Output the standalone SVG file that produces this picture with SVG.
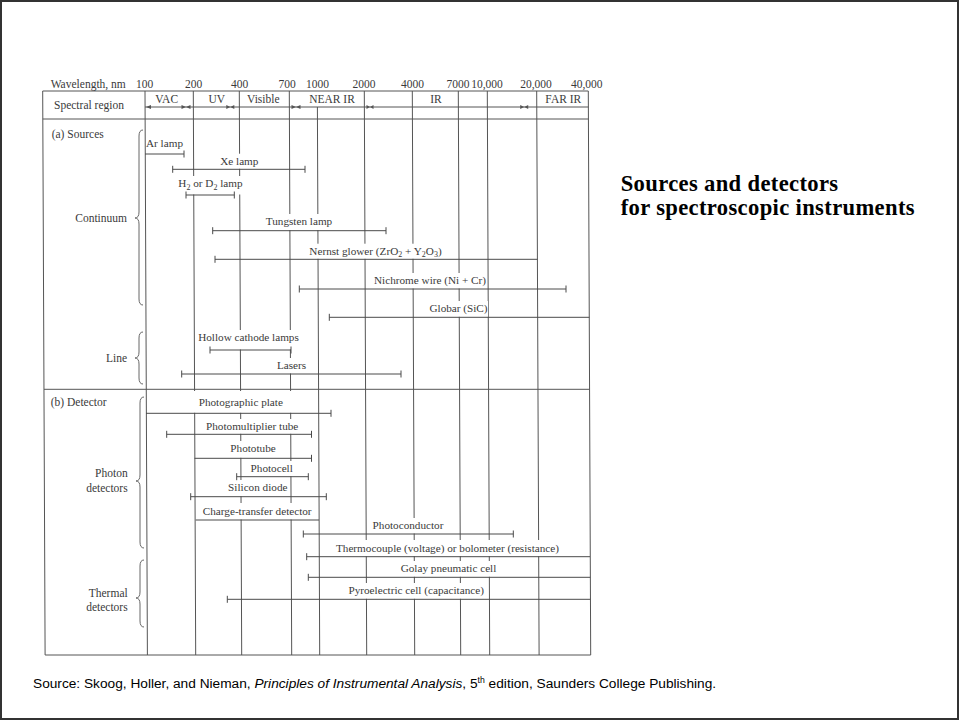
<svg xmlns="http://www.w3.org/2000/svg" width="960" height="721" viewBox="0 0 960 721">
<defs>
<style>
.t{font-family:"Liberation Serif","Times New Roman",serif;font-size:11.2px;fill:#3a3a3a}
.h{font-family:"Liberation Serif","Times New Roman",serif;font-size:11.5px;fill:#3a3a3a}
.mid{text-anchor:middle}
.end{text-anchor:end}
.g{stroke:#555;stroke-width:1;fill:none}
.bar{stroke:#4a4a4a;stroke-width:1;fill:none}
.br{stroke:#666;stroke-width:1;fill:none}
.w{fill:#fff;stroke:none}
.ar{fill:#555}
.ttl{font-family:"Liberation Serif","Times New Roman",serif;font-size:22.6px;font-weight:bold;fill:#000;letter-spacing:0.35px}
</style>
<marker id="tk" markerWidth="2" markerHeight="8" refX="1" refY="4" orient="auto" markerUnits="userSpaceOnUse">
<path d="M1 0.5V7.5" stroke="#4a4a4a" stroke-width="1"/>
</marker>
</defs>
<rect x="0" y="0" width="960" height="721" fill="#fff"/>
<rect x="1" y="1" width="957" height="718" fill="none" stroke="#333" stroke-width="2"/>

<g id="grid">
<line class="g" x1="42.7" y1="91" x2="45.1" y2="655"/>
<line class="g" x1="145" y1="91" x2="147.4" y2="655"/>
<line class="g" x1="193.3" y1="91" x2="195.7" y2="655"/>
<line class="g" x1="239.3" y1="91" x2="241.7" y2="655"/>
<line class="g" x1="289.3" y1="91" x2="291.7" y2="655"/>
<line class="g" x1="317.4" y1="107" x2="319.7" y2="655"/>
<line class="g" x1="364.3" y1="91" x2="366.7" y2="655"/>
<line class="g" x1="412.3" y1="91" x2="414.7" y2="655"/>
<line class="g" x1="458.3" y1="91" x2="460.7" y2="655"/>
<line class="g" x1="487.3" y1="91" x2="489.7" y2="655"/>
<line class="g" x1="536.7" y1="91" x2="539.1" y2="655"/>
<line class="g" x1="588.3" y1="91" x2="590.7" y2="655"/>
<line class="g" x1="42.7" y1="91" x2="588.3" y2="91"/>
<line class="g" x1="145" y1="107" x2="588.4" y2="107"/>
<line class="g" x1="42.8" y1="119" x2="588.4" y2="119"/>
<line class="g" x1="44" y1="389.3" x2="589.5" y2="389.3"/>
<line class="g" x1="45.1" y1="655" x2="590.7" y2="655"/>
</g>

<g id="header">
<text class="h" x="50.7" y="88">Wavelength, nm</text>
<text class="h mid" x="144.5" y="88">100</text>
<text class="h mid" x="193.5" y="88">200</text>
<text class="h mid" x="239.5" y="88">400</text>
<text class="h mid" x="287" y="88">700</text>
<text class="h mid" x="317.5" y="88">1000</text>
<text class="h mid" x="364" y="88">2000</text>
<text class="h mid" x="412.5" y="88">4000</text>
<text class="h mid" x="458" y="88">7000</text>
<text class="h mid" x="487" y="88">10,000</text>
<text class="h mid" x="536" y="88">20,000</text>
<text class="h mid" x="586.7" y="88">40,000</text>
<text class="h" x="54" y="108.5">Spectral region</text>
<text class="h mid" x="166.7" y="103.3">VAC</text>
<text class="h mid" x="216.7" y="103.3">UV</text>
<text class="h mid" x="263.3" y="103.3">Visible</text>
<text class="h mid" x="332" y="103.3">NEAR IR</text>
<text class="h mid" x="436" y="103.3">IR</text>
<text class="h mid" x="563.3" y="103.3">FAR IR</text>
<g id="region-arrows">
<path class="ar" d="M146 107l5-2v4z"/>
<path class="ar" d="M186 107l-4.5-2v4zM186 107l4.5-2v4z"/>
<path class="ar" d="M230.3 107l-4-2v4zM230.3 107l4-2v4z"/>
<path class="ar" d="M296 107l-4.5-2v4zM296 107l4.5-2v4z"/>
<path class="ar" d="M370 107l-3.5-2v4zM370 107l3.5-2v4z"/>
<path class="ar" d="M524.2 107l-4-2v4zM524.2 107l4-2v4z"/>
</g>
</g>

<g id="label-gaps">
<rect class="w" x="218" y="153.7" width="42" height="15.1"/>
<rect class="w" x="177" y="176" width="67" height="18.5"/>
<rect class="w" x="265" y="214" width="68" height="16.2"/>
<rect class="w" x="308" y="243.7" width="135" height="15.1"/>
<rect class="w" x="374" y="273" width="112" height="15.5"/>
<rect class="w" x="429" y="301" width="59" height="15.8"/>
<rect class="w" x="198" y="330" width="101" height="19.5"/>
<rect class="w" x="276" y="358" width="31" height="15.5"/>
<rect class="w" x="148" y="391" width="168" height="21.8"/>
<rect class="w" x="205" y="419" width="94" height="14.8"/>
<rect class="w" x="229" y="441" width="48" height="16.8"/>
<rect class="w" x="249" y="461" width="45" height="15.2"/>
<rect class="w" x="226" y="480" width="63" height="16.2"/>
<rect class="w" x="201" y="503" width="112" height="16.5"/>
<rect class="w" x="372" y="518" width="72" height="15.5"/>
<rect class="w" x="335" y="540" width="225" height="16.2"/>
<rect class="w" x="400" y="561" width="97" height="15.8"/>
<rect class="w" x="347" y="583" width="138" height="15.8"/>
</g>

<g id="side-labels">
<text class="h" x="51.7" y="138">(a)  Sources</text>
<text class="h end" x="127" y="221.7">Continuum</text>
<text class="h end" x="127" y="362">Line</text>
<text class="h" x="50.7" y="405.7">(b)  Detector</text>
<text class="h end" x="127.7" y="476.7">Photon</text>
<text class="h end" x="127.7" y="492.3">detectors</text>
<text class="h end" x="127.7" y="596.7">Thermal</text>
<text class="h end" x="127.7" y="610.7">detectors</text>
<path class="br" d="M143 130Q139 130 139 136L139 212Q139 218 135 218Q139 218 139 224L139 299Q139 305 143 305"/>
<path class="br" d="M143 332Q139 332 139 338L139 352Q139 358 135 358Q139 358 139 364L139 378Q139 384 143 384"/>
<path class="br" d="M144 397Q140 397 140 403L140 475Q140 481 136 481Q140 481 140 487L140 542Q140 548 144 548"/>
<path class="br" d="M144 560Q140 560 140 566L140 592Q140 598 136 598Q140 598 140 604L140 621Q140 627 144 627"/>
</g>

<g id="sources">
<g id="ar-lamp"><line class="bar" x1="145.1" y1="154" x2="184" y2="154" marker-end="url(#tk)"/><text class="t" x="146" y="146.7">Ar lamp</text></g>
<g id="xe-lamp"><line class="bar" x1="172.7" y1="169.3" x2="305" y2="169.3" marker-start="url(#tk)" marker-end="url(#tk)"/><text class="t mid" x="239.3" y="164.7">Xe lamp</text></g>
<g id="h2-lamp"><line class="bar" x1="186" y1="195" x2="234.3" y2="195" marker-start="url(#tk)" marker-end="url(#tk)"/><text class="t mid" x="210.5" y="187.3">H<tspan font-size="8" dy="2.5">2</tspan><tspan dy="-2.5"> or D</tspan><tspan font-size="8" dy="2.5">2</tspan><tspan dy="-2.5"> lamp</tspan></text></g>
<g id="tungsten-lamp"><line class="bar" x1="212.7" y1="230.7" x2="386" y2="230.7" marker-start="url(#tk)" marker-end="url(#tk)"/><text class="t mid" x="299" y="225">Tungsten lamp</text></g>
<g id="nernst-glower"><line class="bar" x1="215" y1="259.3" x2="537.4" y2="259.3" marker-start="url(#tk)"/><text class="t mid" x="375.5" y="254.7">Nernst glower (ZrO<tspan font-size="8" dy="2.5">2</tspan><tspan dy="-2.5"> + Y</tspan><tspan font-size="8" dy="2.5">2</tspan><tspan dy="-2.5">O</tspan><tspan font-size="8" dy="2.5">3</tspan><tspan dy="-2.5">)</tspan></text></g>
<g id="nichrome-wire"><line class="bar" x1="299.3" y1="289" x2="566" y2="289" marker-start="url(#tk)" marker-end="url(#tk)"/><text class="t mid" x="430" y="284">Nichrome wire (Ni + Cr)</text></g>
<g id="globar"><line class="bar" x1="329.3" y1="317.3" x2="589.4" y2="317.3" marker-start="url(#tk)"/><text class="t mid" x="458.5" y="312.3">Globar (SiC)</text></g>
<g id="hollow-cathode"><line class="bar" x1="210" y1="350" x2="291" y2="350" marker-start="url(#tk)" marker-end="url(#tk)"/><text class="t mid" x="248.5" y="341.3">Hollow cathode lamps</text></g>
<g id="lasers"><line class="bar" x1="181.7" y1="374" x2="401" y2="374" marker-start="url(#tk)" marker-end="url(#tk)"/><text class="t mid" x="291.5" y="369">Lasers</text></g>
</g>

<g id="detectors">
<g id="photographic-plate"><line class="bar" x1="146" y1="413.3" x2="331" y2="413.3" marker-end="url(#tk)"/><text class="t mid" x="240.8" y="406">Photographic plate</text></g>
<g id="photomultiplier"><line class="bar" x1="166.7" y1="434.3" x2="311.5" y2="434.3" marker-start="url(#tk)" marker-end="url(#tk)"/><text class="t mid" x="252.2" y="430">Photomultiplier tube</text></g>
<g id="phototube"><line class="bar" x1="194.5" y1="458.3" x2="311.5" y2="458.3" marker-end="url(#tk)"/><text class="t mid" x="253" y="452.3">Phototube</text></g>
<g id="photocell"><line class="bar" x1="236.7" y1="476.7" x2="308.3" y2="476.7" marker-start="url(#tk)" marker-end="url(#tk)"/><text class="t mid" x="271.7" y="471.7">Photocell</text></g>
<g id="silicon-diode"><line class="bar" x1="190.7" y1="496.7" x2="326.3" y2="496.7" marker-start="url(#tk)" marker-end="url(#tk)"/><text class="t mid" x="257.8" y="491.3">Silicon diode</text></g>
<g id="charge-transfer"><line class="bar" x1="195.7" y1="520" x2="319" y2="520"/><text class="t mid" x="257.2" y="515">Charge-transfer detector</text></g>
<g id="photoconductor"><line class="bar" x1="303.3" y1="534" x2="513.3" y2="534" marker-start="url(#tk)" marker-end="url(#tk)"/><text class="t mid" x="408" y="529">Photoconductor</text></g>
<g id="thermocouple"><line class="bar" x1="306.7" y1="556.7" x2="590" y2="556.7" marker-start="url(#tk)"/><text class="t mid" x="447.5" y="551.7">Thermocouple (voltage) or bolometer (resistance)</text></g>
<g id="golay"><line class="bar" x1="308.3" y1="577.3" x2="590.2" y2="577.3" marker-start="url(#tk)"/><text class="t mid" x="448.5" y="571.7">Golay pneumatic cell</text></g>
<g id="pyroelectric"><line class="bar" x1="227.3" y1="599.3" x2="590.3" y2="599.3" marker-start="url(#tk)"/><text class="t mid" x="416.2" y="594">Pyroelectric cell (capacitance)</text></g>
</g>

<g id="title">
<text class="ttl" x="620.7" y="191">Sources and detectors</text>
<text class="ttl" x="620.7" y="215">for spectroscopic instruments</text>
</g>

<g id="footer">
<text x="33" y="688" font-family="'Liberation Sans',Arial,sans-serif" font-size="13.7" fill="#000">Source: Skoog, Holler, and Nieman, <tspan font-style="italic">Principles of Instrumental Analysis</tspan>, 5<tspan font-size="8.7" dy="-5">th</tspan><tspan dy="5"> edition, Saunders College Publishing.</tspan></text>
</g>
</svg>
